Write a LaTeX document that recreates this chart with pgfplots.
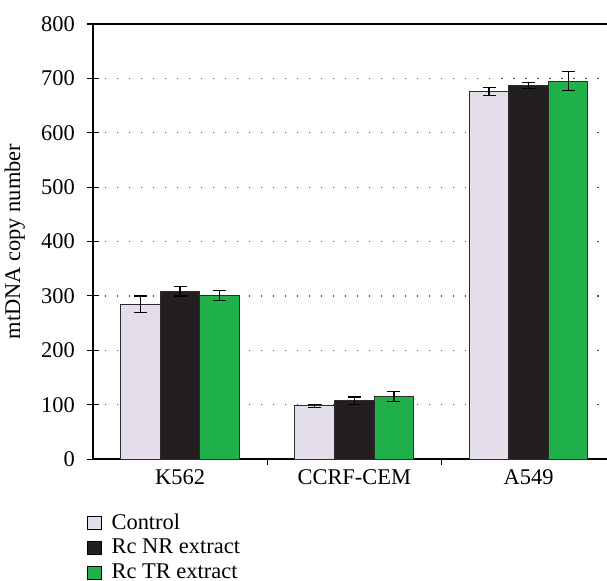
\documentclass[border=0pt]{standalone}
\usepackage{pgfplots}
\pgfplotsset{compat=1.18}
\usepackage{fontspec}
\setmainfont{Liberation Serif}
\definecolor{ctrl}{HTML}{E4DEEA}
\definecolor{nr}{HTML}{231F20}
\definecolor{tr}{HTML}{21B14B}
\definecolor{edge}{HTML}{2E2B2C}
\begin{document}
\begin{tikzpicture}
\path[use as bounding box] (-41.4pt,-54.3pt) rectangle (229pt,204.5pt);
\begin{axis}[
  at={(0,0)}, anchor=south west,
  scale only axis,
  width=229pt, height=193.8pt,
  xmin=-0.5, xmax=2.45,
  ymin=0, ymax=800,
  ytick={0,100,...,800},
  xtick={0,1,2},
  xticklabels={K562,CCRF-CEM,A549},
  major x tick style={draw=none},
  y tick style={black, line width=0.5pt},
  tick align=center,
  major tick length=5pt,
  ymajorgrids,
  major grid style={black!70, line width=0.55pt, dash pattern=on 0.55pt off 4.8pt},
  axis x line*=bottom,
  axis y line*=left,
  axis line style={black, line width=0.6pt},
  every outer x axis line/.append style={-},
  every outer y axis line/.append style={-},
  /pgf/number format/assume math mode=true,
  ticklabel style={font=\fontsize{10}{12}\selectfont},
  yticklabel style={xshift=-2pt},
  xticklabel style={yshift=4pt},
  every axis y label/.style={at={(axis description cs:-0.152,0.5)}, rotate=90, anchor=center},
  ylabel={mtDNA copy number},
  ylabel style={font=\fontsize{10}{12}\selectfont},
  ybar, bar width=0.227,
  every axis plot/.append style={draw=edge, line width=0.45pt},
  error bars/error bar style={black, line width=0.55pt},
  error bars/error mark options={rotate=90, mark size=2.9pt, line width=0.55pt, black},
  legend style={at={(-0.012,-0.118)}, anchor=north west, draw=none, fill=none,
    font=\fontsize{10}{12}\selectfont, row sep=0.6pt, column sep=3.2pt, inner sep=0pt, legend cell align=left,
    nodes={inner sep=1.2pt}},
  legend image code/.code={\draw[#1, draw=black, line width=0.45pt] (0pt,-3pt) rectangle (6pt,3pt);},
  clip=false,
]
\addplot[fill=ctrl, bar shift=-0.227, error bars/.cd, y dir=both, y explicit]
  coordinates {(0,285) +- (0,15) (1,98) +- (0,2.5) (2,676) +- (0,7)};
\addplot[fill=nr, bar shift=0, error bars/.cd, y dir=both, y explicit]
  coordinates {(0,309) +- (0,9) (1,107) +- (0,7) (2,687) +- (0,6)};
\addplot[fill=tr, bar shift=0.227, error bars/.cd, y dir=both, y explicit]
  coordinates {(0,301) +- (0,9) (1,115) +- (0,9) (2,695) +- (0,17)};
\legend{Control, Rc NR extract, Rc TR extract}
\draw[black, line width=0.6pt] (axis cs:-0.5,800) -- (axis cs:2.45,800);
\draw[black, line width=0.5pt] (axis cs:0.5,0) -- ([yshift=-2.5pt]axis cs:0.5,0);
\draw[black, line width=0.5pt] (axis cs:1.5,0) -- ([yshift=-2.5pt]axis cs:1.5,0);
\end{axis}
\end{tikzpicture}
\end{document}
